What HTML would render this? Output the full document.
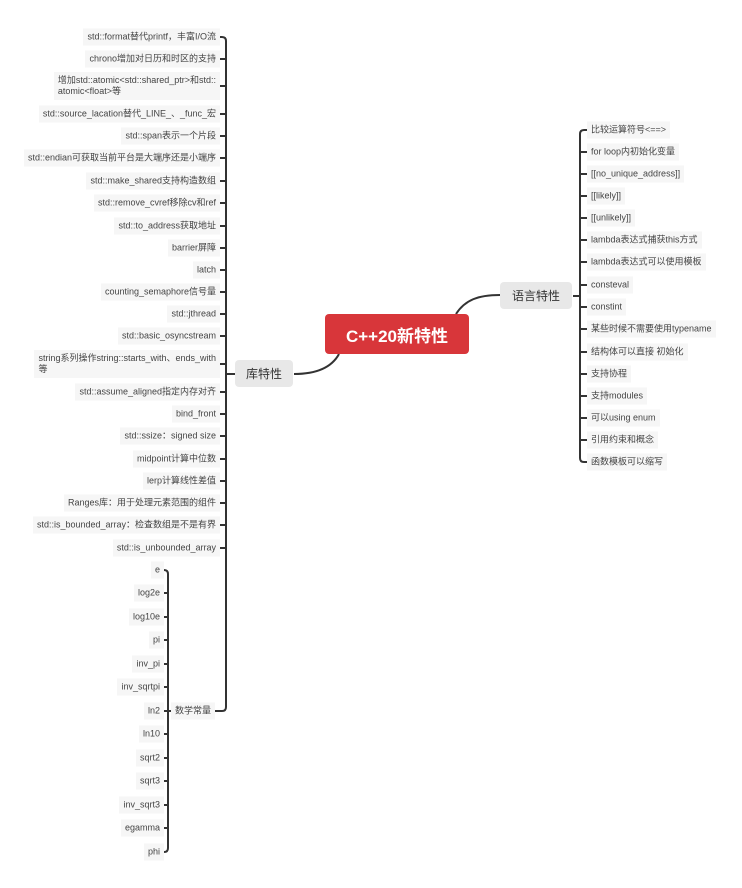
<!DOCTYPE html>
<html><head><meta charset="utf-8"><style>
body{margin:0;width:742px;height:888px;background:#fff;position:relative;overflow:hidden;font-family:"Liberation Sans","Noto Sans CJK SC",sans-serif;}
.l,.r{position:absolute;font-size:9px;line-height:11px;color:#444;background:#f6f6f6;padding:3px 4px;white-space:nowrap;transform:translateY(-50%);}
.l{right:522px;text-align:left;}
.r{left:587px;}
.m{position:absolute;right:578px;font-size:9px;line-height:11px;color:#444;background:#f6f6f6;padding:3px 4px;transform:translateY(-50%);}
.node{position:absolute;display:flex;align-items:center;justify-content:center;border-radius:4px;}
svg{position:absolute;left:0;top:0;}
</style></head><body>
<svg width="742" height="888" fill="none" stroke="#333" stroke-width="2">
<path d="M220 37 H222 Q226 37 226 41 V707 Q226 711 222 711 H215"/>
<path d="M220 59H226M220 86H226M220 114H226M220 136H226M220 158H226M220 181H226M220 203H226M220 226H226M220 248H226M220 270H226M220 292H226M220 314H226M220 336H226M220 364H226M220 392H226M220 414H226M220 436H226M220 459H226M220 481H226M220 503H226M220 525H226M220 548H226M226 374H236"/>
<path d="M162 570 H164 Q168 570 168 574 V848 Q168 852 164 852 H162"/>
<path d="M162 593H168M162 617H168M162 640H168M162 664H168M162 687H168M162 711H178M162 734H168M162 758H168M162 781H168M162 805H168M162 828H168"/>
<path d="M294 374 C320 374 333 365 339 354"/>
<path d="M456 314 C465 300 478 295 500 295"/>
<path d="M573 296H580"/>
<path d="M587 130 H584 Q580 130 580 134 V458 Q580 462 584 462 H587"/>
<path d="M580 152H587M580 174H587M580 196H587M580 218H587M580 240H587M580 262H587M580 285H587M580 307H587M580 329H587M580 352H587M580 374H587M580 396H587M580 418H587M580 440H587"/>
</svg>
<div class="node" style="left:325px;top:314px;width:144px;height:40px;background:#d8363a;color:#fff;font-size:17px;font-weight:bold;">C++20新特性</div>
<div class="node" style="left:500px;top:282px;width:72px;height:27px;background:#e8e8e8;color:#333;font-size:12px;">语言特性</div>
<div class="node" style="left:235px;top:360px;width:58px;height:27px;background:#e8e8e8;color:#333;font-size:12px;">库特性</div>

<div class="l" style="top:37px">std::format替代printf，丰富I/O流</div>
<div class="l" style="top:59px">chrono增加对日历和时区的支持</div>
<div class="l" style="top:86px">增加std::atomic&lt;std::shared_ptr&gt;和std::<br>atomic&lt;float&gt;等</div>
<div class="l" style="top:114px">std::source_lacation替代_LINE_、_func_宏</div>
<div class="l" style="top:136px">std::span表示一个片段</div>
<div class="l" style="top:158px">std::endian可获取当前平台是大端序还是小端序</div>
<div class="l" style="top:181px">std::make_shared支持构造数组</div>
<div class="l" style="top:203px">std::remove_cvref移除cv和ref</div>
<div class="l" style="top:226px">std::to_address获取地址</div>
<div class="l" style="top:248px">barrier屏障</div>
<div class="l" style="top:270px">latch</div>
<div class="l" style="top:292px">counting_semaphore信号量</div>
<div class="l" style="top:314px">std::jthread</div>
<div class="l" style="top:336px">std::basic_osyncstream</div>
<div class="l" style="top:364px">string系列操作string::starts_with、ends_with<br>等</div>
<div class="l" style="top:392px">std::assume_aligned指定内存对齐</div>
<div class="l" style="top:414px">bind_front</div>
<div class="l" style="top:436px">std::ssize：signed size</div>
<div class="l" style="top:459px">midpoint计算中位数</div>
<div class="l" style="top:481px">lerp计算线性差值</div>
<div class="l" style="top:503px">Ranges库：用于处理元素范围的组件</div>
<div class="l" style="top:525px">std::is_bounded_array：检查数组是不是有界</div>
<div class="l" style="top:548px">std::is_unbounded_array</div>
<div class="l" style="top:711px;right:527px">数学常量</div>

<div class="m" style="top:570px">e</div>
<div class="m" style="top:593px">log2e</div>
<div class="m" style="top:617px">log10e</div>
<div class="m" style="top:640px">pi</div>
<div class="m" style="top:664px">inv_pi</div>
<div class="m" style="top:687px">inv_sqrtpi</div>
<div class="m" style="top:711px">ln2</div>
<div class="m" style="top:734px">ln10</div>
<div class="m" style="top:758px">sqrt2</div>
<div class="m" style="top:781px">sqrt3</div>
<div class="m" style="top:805px">inv_sqrt3</div>
<div class="m" style="top:828px">egamma</div>
<div class="m" style="top:852px">phi</div>

<div class="r" style="top:130px">比较运算符号&lt;==&gt;</div>
<div class="r" style="top:152px">for loop内初始化变量</div>
<div class="r" style="top:174px">[[no_unique_address]]</div>
<div class="r" style="top:196px">[[likely]]</div>
<div class="r" style="top:218px">[[unlikely]]</div>
<div class="r" style="top:240px">lambda表达式捕获this方式</div>
<div class="r" style="top:262px">lambda表达式可以使用模板</div>
<div class="r" style="top:285px">consteval</div>
<div class="r" style="top:307px">constint</div>
<div class="r" style="top:329px">某些时候不需要使用typename</div>
<div class="r" style="top:352px">结构体可以直接 初始化</div>
<div class="r" style="top:374px">支持协程</div>
<div class="r" style="top:396px">支持modules</div>
<div class="r" style="top:418px">可以using enum</div>
<div class="r" style="top:440px">引用约束和概念</div>
<div class="r" style="top:462px">函数模板可以缩写</div>
</body></html>
